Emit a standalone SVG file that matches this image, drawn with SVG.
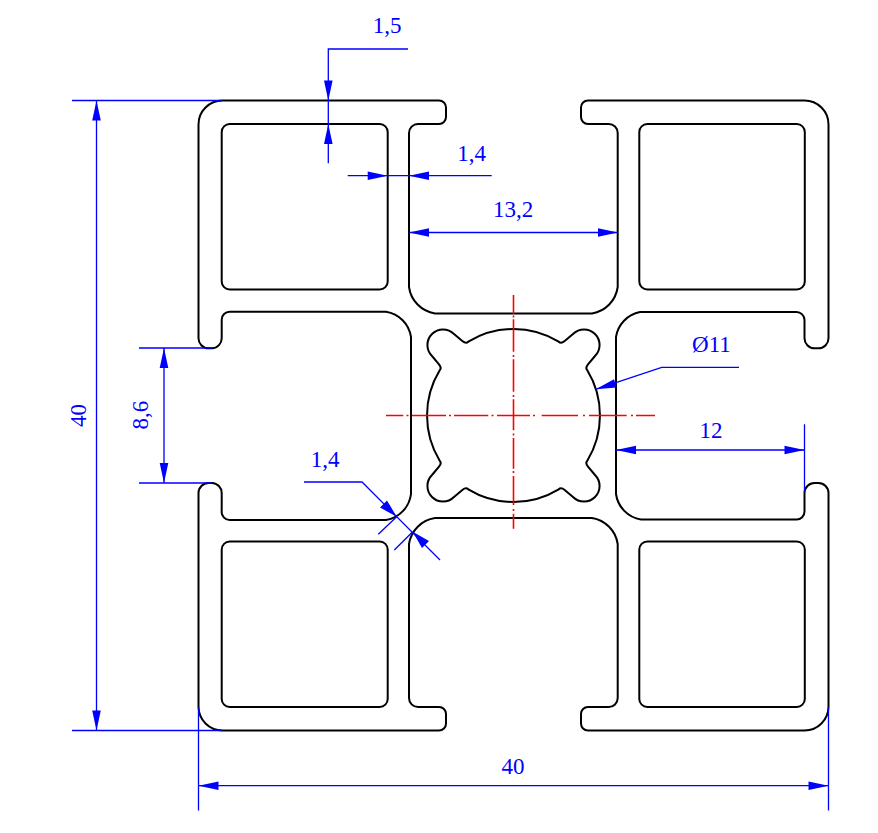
<svg xmlns="http://www.w3.org/2000/svg" width="878" height="833" viewBox="0 0 878 833">
<style>
.p{fill:none;stroke:#000;stroke-width:2;stroke-linejoin:round}
.d{fill:none;stroke:#00f;stroke-width:1.3}
.a{fill:#00f;stroke:none}
.c{fill:none;stroke:#f00;stroke-width:1.6}
text{font-family:"Liberation Serif","Times New Roman",serif;font-size:23px;fill:#00f;text-anchor:middle}
</style>
<rect width="878" height="833" fill="#fff"/>
<g id="profile">
<path class="p" d="M222.5,100.5H439A7,7 0 0 1 446,107.5V117A7,7 0 0 1 439,124H418A9,9 0 0 0 409,133V287A31,31 0 0 0 435,313.5H592A31,31 0 0 0 617.7,287V133A9,9 0 0 0 608.5,124H588A7,7 0 0 1 581,117V107.5A7,7 0 0 1 588,100.5H804.5A24,24 0 0 1 828.5,124.5V338A10,10 0 0 1 818.5,348.3H814.5A10,10 0 0 1 804.5,338V320A8,8 0 0 0 796.5,312H640A30,30 0 0 0 616,337V494A30,30 0 0 0 641,519.5H796A8,8 0 0 0 804.5,511V493A10,10 0 0 1 814.5,483H818.5A10,10 0 0 1 828.5,493V706.5A24,24 0 0 1 804.5,730.5H588A7,7 0 0 1 581,723.5V714A7,7 0 0 1 588,707H608.5A9,9 0 0 0 617.7,698V544A31,31 0 0 0 592,518H435A31,31 0 0 0 409,544V698A9,9 0 0 0 418,707H439A7,7 0 0 1 446,714V723.5A7,7 0 0 1 439,730.5H222.5A24,24 0 0 1 198.5,706.5V493A10,10 0 0 1 208.5,483H212A10,10 0 0 1 221.7,493V511A8,8 0 0 0 230,520H386A30,30 0 0 0 411,494V337A30,30 0 0 0 386,311.7H230A8,8 0 0 0 221.7,320V338A10,10 0 0 1 212,348.3H208.5A10,10 0 0 1 198.5,338V124.5A24,24 0 0 1 222.5,100.5Z"/>
</g>
<g id="cavity-tl"><rect class="p" x="221.7" y="124" width="166" height="165.5" rx="8"/></g>
<g id="cavity-tr"><rect class="p" x="639.3" y="124" width="165.5" height="165.5" rx="8"/></g>
<g id="cavity-bl"><rect class="p" x="221.7" y="541.5" width="166" height="165.5" rx="8"/></g>
<g id="cavity-br"><rect class="p" x="639.3" y="541.5" width="165.5" height="165.5" rx="8"/></g>
<g id="bore">
<path class="p" d="M439.7,370.3Q442,368 439,364.3L432,356A15.5,15.5 0 1 1 454,334L462.3,341Q466,344 468.3,341.7A87,87 0 0 1 558.7,341.7Q561,344 564.7,341L573,334A15.5,15.5 0 1 1 595,356L588,364.3Q585,368 587.3,370.3A87,87 0 0 1 587.3,460.7Q585,463 588,466.7L595,475A15.5,15.5 0 1 1 573,497L564.7,490Q561,487 558.7,489.3A87,87 0 0 1 468.3,489.3Q466,487 462.3,490L454,497A15.5,15.5 0 1 1 432,475L439,466.7Q442,463 439.7,460.7A87,87 0 0 1 439.7,370.3Z"/>
</g>
<g id="centerlines">
<path class="c" d="M386,415.5H403.3M406.5,415.5H408.5M412,415.5H446M449,415.5H451M454,415.5H488.3M491.5,415.5H493.5M497,415.5H530M533,415.5H535M541.7,415.5H578M583,415.5H585M589,415.5H626.7M631,415.5H633M636,415.5H655"/>
<path class="c" d="M513.5,295V314M513.5,315.5V317.5M513.5,319.3V351.7M513.5,355V357M513.5,359.3V391.7M513.5,395V397M513.5,399.3V430.3M513.5,433.5V435.5M513.5,438V468.7M513.5,471V473M513.5,476V505M513.5,509V511M513.5,513.7V528.7"/>
</g>
<g id="connectors">
<path class="d" d="M72,100.5H222M72,730.5H222M96.5,100.5V730.5"/>
<path class="a" d="M96.5,100.5l4.3,20h-8.6zM96.5,730.5l4.3,-20h-8.6z"/>
<path class="d" d="M139,348H212M139,483H212M164,348V483"/>
<path class="a" d="M164,348l4.3,20h-8.6zM164,483l4.3,-20h-8.6z"/>
<path class="d" d="M408,49H328.3V163.3"/>
<path class="a" d="M328.3,100.5l-4.3,-20h8.6zM328.3,124l-4.3,20h8.6z"/>
<path class="d" d="M347.7,175.7H491.7"/>
<path class="a" d="M387.7,175.7l-20,-4.3v8.6zM409,175.7l20,-4.3v8.6z"/>
<path class="d" d="M409,232.5H618"/>
<path class="a" d="M409,232.5l20,-4.3v8.6zM618,232.5l-20,-4.3v8.6z"/>
<path class="d" d="M198.5,707V810.5M828.5,707V810.5M198.5,785.7H828.5"/>
<path class="a" d="M198.5,785.7l20,-4.3v8.6zM828.5,785.7l-20,-4.3v8.6z"/>
<path class="d" d="M616,450H804.5M804.5,424.3V491.7"/>
<path class="a" d="M616,450l20,-4.3v8.6zM804.5,450l-20,-4.3v8.6z"/>
<path class="d" d="M595.7,389.3L661.7,367.3H739"/>
<path class="a" d="M595.7,389.3L614,379.2L616.8,387.4z"/>
<path class="d" d="M304,482H362L440,560M378.3,534.3L396.7,516.7M394.3,550L412.7,531.7"/>
<path class="a" d="M396.7,516.7L380,507.5L387,500.5zM412.7,531.7L429,541L422,548z"/>
</g>
<g id="labels">
<text x="387" y="33.3">1,5</text>
<text x="471.7" y="160.5">1,4</text>
<text x="513" y="216.5">13,2</text>
<text x="325" y="467">1,4</text>
<text x="711" y="438">12</text>
<text x="711.5" y="351.5">Ø11</text>
<text x="513" y="773.5">40</text>
<text transform="translate(85.5,415.5) rotate(-90)">40</text>
<text transform="translate(148,415) rotate(-90)">8,6</text>
</g>
</svg>
